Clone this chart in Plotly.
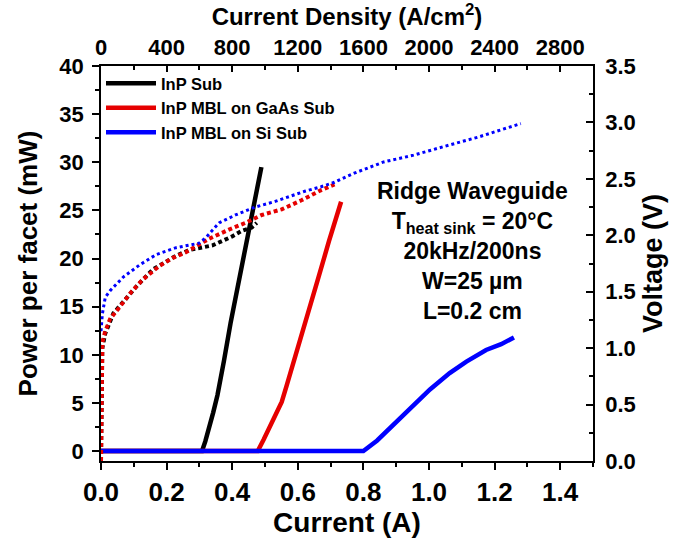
import plotly.graph_objects as go

# ---- data ----
# Light-current (solid lines), current in A, power in mW
current_inp = [0.0, 0.308, 0.318, 0.330, 0.342, 0.355, 0.365, 0.375, 0.395, 0.43, 0.46, 0.489]
power_inp = [0.0, 0.0, 1.0, 2.4, 4.0, 5.8, 7.5, 9.4, 13.3, 19.4, 24.5, 29.5]

current_gaas = [0.0, 0.478, 0.496, 0.516, 0.533, 0.551, 0.566, 0.581, 0.601, 0.621, 0.661, 0.695, 0.732]
power_gaas = [0.0, 0.0, 1.2, 2.7, 4.0, 5.1, 6.8, 8.6, 10.9, 13.0, 17.8, 21.8, 25.9]

current_si = [0.0, 0.80, 0.842, 0.90, 0.953, 1.003, 1.063, 1.114, 1.174, 1.22, 1.259]
power_si = [0.0, 0.0, 1.1, 3.0, 4.7, 6.4, 8.1, 9.3, 10.5, 11.1, 11.8]

# Voltage-current (dotted lines), current in A, voltage in V
vcur_inp = [0.0, 0.002, 0.004, 0.013, 0.038, 0.068, 0.109, 0.159, 0.194, 0.230, 0.269,
            0.315, 0.340, 0.370, 0.400, 0.430, 0.460, 0.475]
volt_inp = [0.0, 0.5, 1.0, 1.13, 1.31, 1.41, 1.55, 1.70, 1.76, 1.82, 1.87,
            1.90, 1.91, 1.95, 1.99, 2.04, 2.07, 2.11]

vcur_gaas = [0.0, 0.001, 0.002, 0.004, 0.013, 0.028, 0.053, 0.093, 0.128, 0.179, 0.219,
             0.259, 0.294, 0.330, 0.390, 0.440, 0.490, 0.551, 0.611, 0.671, 0.712]
volt_gaas = [0.0, 0.4, 0.8, 1.05, 1.15, 1.26, 1.35, 1.50, 1.61, 1.73, 1.80,
             1.85, 1.91, 1.97, 2.05, 2.11, 2.18, 2.23, 2.31, 2.40, 2.45]

vcur_si = [0.0, 0.004, 0.013, 0.028, 0.068, 0.119, 0.169, 0.229, 0.299, 0.320, 0.360,
           0.410, 0.470, 0.531, 0.621, 0.671, 0.712, 0.772, 0.862, 0.953, 1.05, 1.15, 1.28]
volt_si = [1.15, 1.30, 1.45, 1.51, 1.63, 1.74, 1.83, 1.89, 1.93, 1.98, 2.11,
           2.18, 2.25, 2.30, 2.39, 2.43, 2.47, 2.55, 2.65, 2.71, 2.79, 2.87, 2.99]

series_names = ["InP Sub", "InP MBL on GaAs Sub", "InP MBL on Si Sub"]
colors = ["#000000", "#e60000", "#0000ff"]

# ridge geometry: W = 25 um, L = 0.2 cm -> area in cm^2 (current density = I / area)
ridge_width_cm = 25e-4
ridge_length_cm = 0.2
area_cm2 = ridge_width_cm * ridge_length_cm

FONT = "Liberation Sans, Arial, sans-serif"

fig = go.Figure()

# dotted voltage curves (right axis), plotted against current density (top axis)
for xs, ys, c, w, d in [
    (vcur_inp, volt_inp, colors[0], 4, "4px,3px"),
    (vcur_gaas, volt_gaas, colors[1], 4, "4px,3px"),
    (vcur_si, volt_si, colors[2], 3, "3px,3px"),
]:
    fig.add_trace(go.Scatter(x=[i / area_cm2 for i in xs], y=ys, mode="lines",
                             xaxis="x2", yaxis="y2",
                             line=dict(color=c, width=w, dash=d),
                             showlegend=False, hoverinfo="skip"))

# solid light-current curves (left axis)
for xs, ys, c, n, g in [
    (current_inp, power_inp, colors[0], series_names[0], "a"),
    (current_gaas, power_gaas, colors[1], series_names[1], "b"),
    (current_si, power_si, colors[2], series_names[2], "c"),
]:
    fig.add_trace(go.Scatter(x=xs, y=ys, mode="lines", name=n, legendgroup=g,
                             line=dict(color=c, width=4.5)))

axis_common = dict(showgrid=False, zeroline=False, showline=True,
                   linecolor="black", linewidth=1.5, tickcolor="black",
                   tickwidth=1.5)

fig.update_layout(
    width=675, height=543,
    margin=dict(l=101, r=78, t=66, b=77),
    paper_bgcolor="white", plot_bgcolor="white",
    font=dict(family=FONT, color="black", weight="bold"),
    xaxis=dict(range=[0, 1.5], tick0=0, dtick=0.2, tickformat=".1f",
               ticks="outside", ticklen=7,
               minor=dict(dtick=0.1, ticks="outside", ticklen=4, tickwidth=1.5, tickcolor="black"),
               tickfont=dict(size=26),
               title=dict(text="Current (A)", font=dict(size=28), standoff=4),
               **axis_common),
    xaxis2=dict(range=[0, 1.5 / area_cm2], tick0=0, dtick=400, overlaying="x", side="top",
                anchor="y2",
                ticks="inside", ticklen=6,
                minor=dict(dtick=200, ticks="inside", ticklen=4, tickwidth=1.5, tickcolor="black"),
                tickfont=dict(size=22),
                title=dict(text="Current Density (A/cm<sup>2</sup>)", font=dict(size=24), standoff=4),
                **axis_common),
    yaxis=dict(range=[-1.03, 40], tick0=0, dtick=5,
               ticks="outside", ticklen=7,
               minor=dict(dtick=2.5, ticks="outside", ticklen=4, tickwidth=1.5, tickcolor="black"),
               tickfont=dict(size=22), ticklabelstandoff=4,
               title=dict(text="Power per facet (mW)", font=dict(size=26), standoff=14),
               **axis_common),
    yaxis2=dict(range=[0, 3.5], tick0=0, dtick=0.5, tickformat=".1f",
                overlaying="y", side="right", anchor="x",
                ticks="inside", ticklen=7,
                minor=dict(dtick=0.25, ticks="inside", ticklen=4, tickwidth=1.5, tickcolor="black"),
                tickfont=dict(size=22), ticklabelstandoff=6,
                title=dict(text="Voltage (V)", font=dict(size=27), standoff=8),
                **axis_common),
    legend=dict(x=0.0, y=1.0, xanchor="left", yanchor="top",
                bgcolor="rgba(0,0,0,0)", borderwidth=0,
                font=dict(size=16.5, family=FONT, weight="bold"),
                tracegroupgap=0, itemwidth=50),
    annotations=[dict(
        xref="paper", yref="paper", x=0.756, y=0.532,
        xanchor="center", yanchor="middle", align="center", showarrow=False,
        text=("Ridge Waveguide<br>T<sub>heat sink</sub> = 20°C<br>20kHz/200ns"
              "<br>W=25 µm<br>L=0.2 cm"),
        font=dict(size=23, family=FONT, weight="bold", color="black"),
    )],
)

fig.write_html("out.html",
               config={"displayModeBar": False},
               post_script="document.body.style.margin='0';document.body.style.padding='0';")
